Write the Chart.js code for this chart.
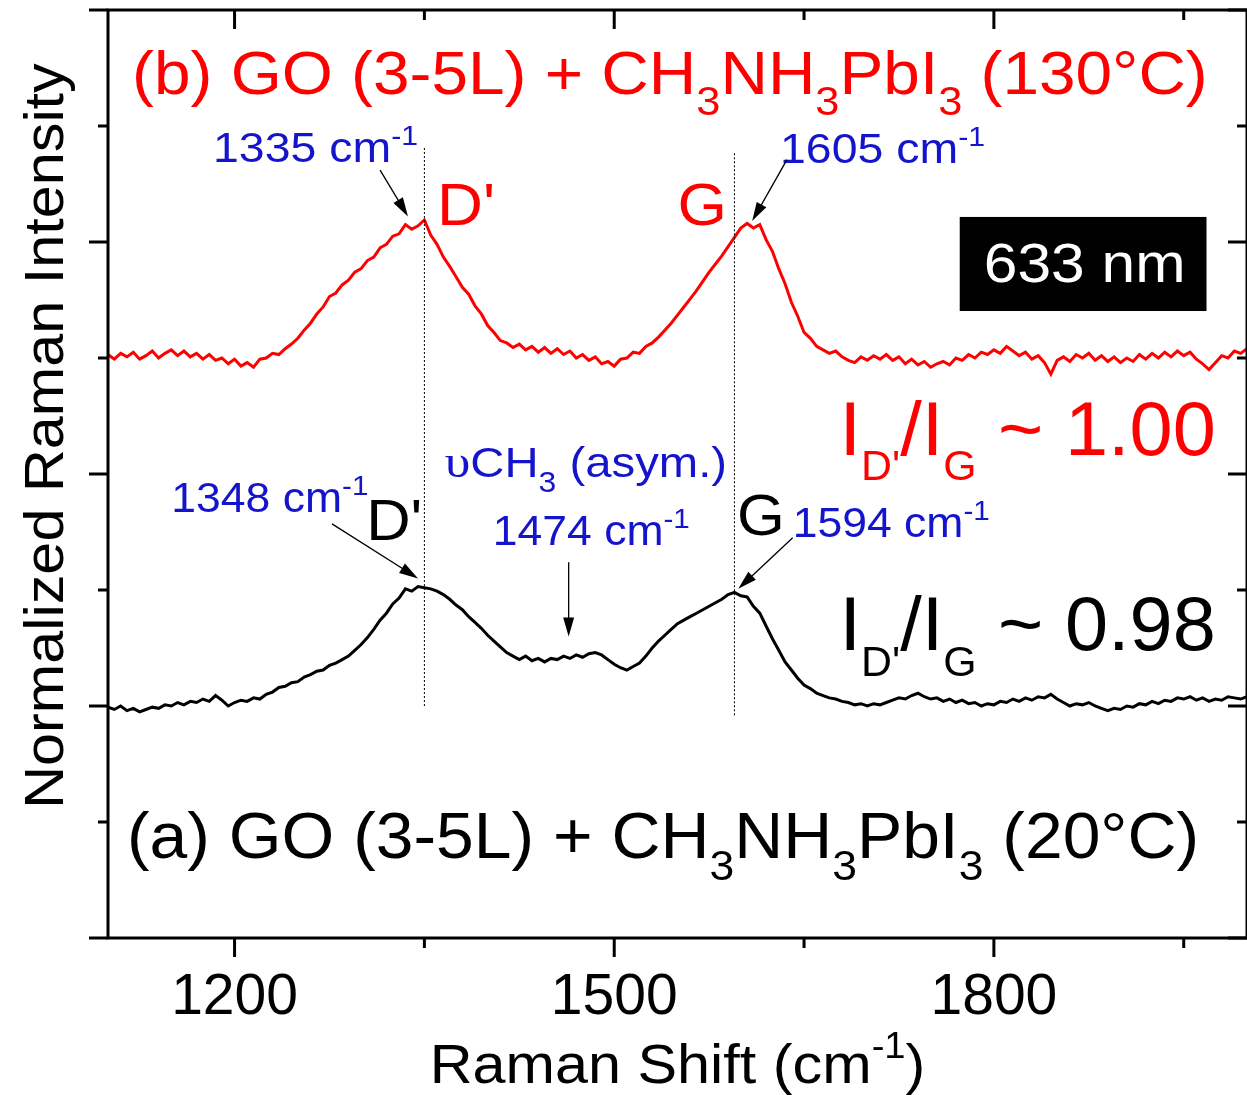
<!DOCTYPE html>
<html>
<head>
<meta charset="utf-8">
<script src="https://cdn.jsdelivr.net/npm/chart.js@4.4.1/dist/chart.umd.min.js"></script>
<style>
  html, body { margin: 0; padding: 0; background: #fff; }
  #wrap { width: 1247px; height: 1095px; }
</style>
</head>
<body>
<div id="wrap"><canvas id="raman" width="1247" height="1095"></canvas></div>
<script>
// Raman shift (cm-1), sampled every 5 cm-1
const ramanShift = [
  1100, 1105, 1110, 1115, 1120, 1125, 1130, 1135, 1140, 1145,
  1150, 1155, 1160, 1165, 1170, 1175, 1180, 1185, 1190, 1195,
  1200, 1205, 1210, 1215, 1220, 1225, 1230, 1235, 1240, 1245,
  1250, 1255, 1260, 1265, 1270, 1275, 1280, 1285, 1290, 1295,
  1300, 1305, 1310, 1315, 1320, 1325, 1330, 1335, 1340, 1345,
  1350, 1355, 1360, 1365, 1370, 1375, 1380, 1385, 1390, 1395,
  1400, 1405, 1410, 1415, 1420, 1425, 1430, 1435, 1440, 1445,
  1450, 1455, 1460, 1465, 1470, 1475, 1480, 1485, 1490, 1495,
  1500, 1505, 1510, 1515, 1520, 1525, 1530, 1535, 1540, 1545,
  1550, 1555, 1560, 1565, 1570, 1575, 1580, 1585, 1590, 1595,
  1600, 1605, 1610, 1615, 1620, 1625, 1630, 1635, 1640, 1645,
  1650, 1655, 1660, 1665, 1670, 1675, 1680, 1685, 1690, 1695,
  1700, 1705, 1710, 1715, 1720, 1725, 1730, 1735, 1740, 1745,
  1750, 1755, 1760, 1765, 1770, 1775, 1780, 1785, 1790, 1795,
  1800, 1805, 1810, 1815, 1820, 1825, 1830, 1835, 1840, 1845,
  1850, 1855, 1860, 1865, 1870, 1875, 1880, 1885, 1890, 1895,
  1900, 1905, 1910, 1915, 1920, 1925, 1930, 1935, 1940, 1945,
  1950, 1955, 1960, 1965, 1970, 1975, 1980, 1985, 1990, 1995,
  2000
];

// (b) GO (3-5L) + CH3NH3PbI3, 130°C (offset spectrum)
const intensity130C = [
  5.03, 4.99, 5.04, 5.01, 5.05, 4.99, 5.02, 5.06, 5.00, 5.04,
  5.07, 5.02, 5.06, 5.01, 5.04, 4.99, 5.03, 4.98, 5.00, 4.95,
  4.99, 4.93, 4.96, 4.92, 4.99, 5.00, 5.04, 5.03, 5.08, 5.12,
  5.17, 5.24, 5.30, 5.38, 5.44, 5.53, 5.56, 5.63, 5.67, 5.74,
  5.77, 5.84, 5.87, 5.95, 5.98, 6.05, 6.07, 6.15, 6.11, 6.14,
  6.19, 6.06, 5.98, 5.87, 5.79, 5.70, 5.61, 5.55, 5.45, 5.38,
  5.28, 5.22, 5.15, 5.13, 5.09, 5.12, 5.07, 5.10, 5.05, 5.09,
  5.04, 5.08, 5.03, 5.06, 5.00, 5.03, 4.98, 5.01, 4.95, 4.97,
  4.93, 4.99, 5.00, 5.05, 5.04, 5.10, 5.13, 5.18, 5.24, 5.30,
  5.37, 5.44, 5.51, 5.58, 5.66, 5.74, 5.81, 5.88, 5.96, 6.04,
  6.12, 6.16, 6.12, 6.15, 6.02, 5.92, 5.77, 5.64, 5.48, 5.36,
  5.22, 5.17, 5.10, 5.07, 5.04, 5.06, 5.01, 4.98, 4.96, 5.01,
  4.98, 5.02, 4.99, 5.03, 4.98, 5.01, 4.95, 4.99, 4.94, 4.97,
  4.92, 4.95, 4.97, 4.94, 5.00, 4.98, 5.03, 5.00, 5.05, 5.03,
  5.07, 5.04, 5.10, 5.06, 5.02, 5.05, 4.99, 5.02, 4.96, 4.86,
  4.98, 5.01, 4.97, 5.03, 5.00, 5.04, 4.98, 5.02, 4.97, 5.01,
  4.96, 5.00, 4.97, 5.03, 4.99, 5.04, 5.00, 5.05, 5.01, 5.06,
  5.02, 5.05, 4.99, 4.95, 4.90, 4.96, 5.02, 5.00, 5.06, 5.04,
  5.08
];

// (a) GO (3-5L) + CH3NH3PbI3, 20°C
const intensity20C = [
  1.99, 1.97, 2.00, 1.96, 1.98, 1.95, 1.97, 1.99, 1.98, 2.01,
  2.00, 2.03, 2.01, 2.04, 2.03, 2.06, 2.04, 2.09, 2.05, 2.00,
  2.03, 2.05, 2.04, 2.07, 2.06, 2.10, 2.12, 2.16, 2.17, 2.20,
  2.21, 2.25, 2.27, 2.30, 2.31, 2.35, 2.37, 2.40, 2.43, 2.48,
  2.53, 2.59, 2.66, 2.74, 2.80, 2.88, 2.93, 3.01, 2.99, 3.03,
  3.02, 3.01, 2.99, 2.96, 2.92, 2.87, 2.83, 2.77, 2.72, 2.67,
  2.61, 2.56, 2.51, 2.46, 2.43, 2.40, 2.43, 2.39, 2.41, 2.38,
  2.41, 2.40, 2.43, 2.41, 2.44, 2.42, 2.45, 2.46, 2.44, 2.40,
  2.36, 2.33, 2.31, 2.34, 2.37, 2.43, 2.50, 2.56, 2.61, 2.66,
  2.71, 2.74, 2.77, 2.80, 2.83, 2.86, 2.89, 2.92, 2.96, 2.98,
  2.95, 2.94, 2.86, 2.80, 2.69, 2.58, 2.48, 2.38, 2.31, 2.24,
  2.18, 2.15, 2.11, 2.09, 2.07, 2.06, 2.04, 2.03, 2.01, 2.02,
  2.00, 2.02, 2.01, 2.03, 2.05, 2.07, 2.06, 2.09, 2.11, 2.08,
  2.06, 2.07, 2.04, 2.06, 2.03, 2.05, 2.02, 2.03, 2.00, 2.02,
  2.01, 2.04, 2.03, 2.06, 2.04, 2.07, 2.05, 2.08, 2.07, 2.10,
  2.06, 2.03, 2.00, 2.02, 2.01, 2.03, 2.00, 1.98, 1.96, 1.98,
  1.97, 2.00, 1.99, 2.02, 2.01, 2.04, 2.02, 2.05, 2.04, 2.07,
  2.06, 2.08, 2.05, 2.07, 2.04, 2.06, 2.05, 2.08, 2.07, 2.06,
  2.08
];

// axis ticks
const xTickLabels = [1200, 1500, 1800];
const xMinorTicks = [1350, 1650, 1950];
const yMajorTicks = [0, 2, 4, 6, 8];
const yMinorTicks = [1, 3, 5, 7];

// dotted guide lines at the D' and G positions
const guideShift = [1350, 1595];
const guideFrom = [2.0, 1.92];
const guideTo = [6.82, 6.77];

const FONT = '"Liberation Sans", Arial, Helvetica, sans-serif';
const SERIF = '"Liberation Serif", "Times New Roman", serif';
const STRETCH = 1.06;
const RED = '#ff0000';
const BLUE = '#1414cc';
const BLACK = '#000000';

// text annotations, anchored in data units (left edge, baseline)
const notes = [
  { x: 1119, y: 7.28, color: RED, parts: [['(b) GO (3-5L) + CH', 62], ['3', 41, 21], ['NH', 62], ['3', 41, 21], ['PbI', 62], ['3', 41, 21], [' (130°C)', 62]] },
  { x: 1115, y: 0.69, color: BLACK, parts: [['(a) GO (3-5L) + CH', 64], ['3', 42, 22], ['NH', 64], ['3', 42, 22], ['PbI', 64], ['3', 42, 22], [' (20°C)', 64]] },
  { x: 1183, y: 6.69, color: BLUE, parts: [['1335 cm', 43], ['-1', 28, -17]], stretch: 1.08 },
  { x: 1631, y: 6.68, color: BLUE, parts: [['1605 cm', 43], ['-1', 28, -17]], stretch: 1.08 },
  { x: 1360, y: 6.15, color: RED, parts: [["D'", 60]] },
  { x: 1550, y: 6.15, color: RED, parts: [['G', 60]] },
  { x: 1678, y: 4.16, color: RED, stretch: 1.02, parts: [['I', 76], ["D'", 42, 25], ['/', 76], ['I', 76], ['G', 42, 25], [' ~ 1.00', 76]] },
  { x: 1678, y: 2.48, color: BLACK, stretch: 1.02, parts: [['I', 76], ["D'", 42, 26], ['/', 76], ['I', 76], ['G', 42, 26], [' ~ 0.98', 76]] },
  { x: 1150, y: 3.67, color: BLUE, parts: [['1348 cm', 42], ['-1', 28, -17]] },
  { x: 1304, y: 3.43, color: BLACK, parts: [["D'", 58]] },
  { x: 1366, y: 3.97, color: BLUE, parts: [['\u03c5', 47, 0, SERIF], ['CH', 43], ['3', 29, 15], [' (asym.)', 43]], stretch: 1.1 },
  { x: 1404, y: 3.39, color: BLUE, parts: [['1474 cm', 42], ['-1', 28, -17]] },
  { x: 1597, y: 3.47, color: BLACK, parts: [['G', 58]] },
  { x: 1641, y: 3.46, color: BLUE, parts: [['1594 cm', 42], ['-1', 28, -17]] }
];

// arrows: [fromX, fromY, toX, toY] in data units
const arrows = [
  [1315, 6.62, 1337, 6.22],
  [1636.5, 6.71, 1609, 6.18],
  [1277, 3.57, 1345, 3.10],
  [1464, 3.24, 1464, 2.60],
  [1641, 3.45, 1598, 3.01]
];

const laserBox = { x0: 1773, x1: 1968, y0: 5.405, y1: 6.216, textX: 1792, textY: 5.655, text: '633 nm' };

function drawRich(ctx, x, y, parts, color, stretch) {
  ctx.save();
  ctx.translate(x, y);
  ctx.scale(stretch || STRETCH, 1);
  ctx.fillStyle = color;
  ctx.textBaseline = 'alphabetic';
  ctx.textAlign = 'left';
  let cx = 0;
  parts.forEach(p => {
    ctx.font = `${p[1]}px ${p[3] || FONT}`;
    ctx.fillText(p[0], cx, p[2] || 0);
    cx += ctx.measureText(p[0]).width;
  });
  ctx.restore();
}

function richWidth(ctx, parts, stretch) {
  let w = 0;
  parts.forEach(p => {
    ctx.font = `${p[1]}px ${p[3] || FONT}`;
    w += ctx.measureText(p[0]).width;
  });
  return w * (stretch || STRETCH);
}

function drawArrow(ctx, x1, y1, x2, y2) {
  const ang = Math.atan2(y2 - y1, x2 - x1);
  const len = 19, half = 5.5;
  ctx.save();
  ctx.strokeStyle = BLACK;
  ctx.fillStyle = BLACK;
  ctx.lineWidth = 1.3;
  ctx.beginPath();
  ctx.moveTo(x1, y1);
  ctx.lineTo(x2 - Math.cos(ang) * len * 0.8, y2 - Math.sin(ang) * len * 0.8);
  ctx.stroke();
  ctx.beginPath();
  ctx.moveTo(x2, y2);
  ctx.lineTo(x2 - Math.cos(ang) * len - Math.sin(ang) * half, y2 - Math.sin(ang) * len + Math.cos(ang) * half);
  ctx.lineTo(x2 - Math.cos(ang) * len + Math.sin(ang) * half, y2 - Math.sin(ang) * len - Math.cos(ang) * half);
  ctx.closePath();
  ctx.fill();
  ctx.restore();
}

// frame with Origin-style ticks: out on left/bottom, in on top/right
const framePlugin = {
  id: 'frame',
  afterDatasetsDraw(chart) {
    const { ctx, chartArea: a, scales: { x, y } } = chart;
    const major = 19, minor = 10;
    ctx.save();
    ctx.strokeStyle = BLACK;
    ctx.lineWidth = 3;
    ctx.lineCap = 'butt';
    ctx.strokeRect(a.left, a.top, a.right - a.left, a.bottom - a.top);
    ctx.beginPath();
    const xt = (v, len) => {
      const px = x.getPixelForValue(v);
      ctx.moveTo(px, a.bottom); ctx.lineTo(px, a.bottom + len);
      ctx.moveTo(px, a.top); ctx.lineTo(px, a.top + len);
    };
    const yt = (v, len) => {
      const py = y.getPixelForValue(v);
      ctx.moveTo(a.left, py); ctx.lineTo(a.left - len, py);
      ctx.moveTo(a.right, py); ctx.lineTo(a.right - len, py);
    };
    xTickLabels.forEach(v => xt(v, major));
    xMinorTicks.forEach(v => xt(v, minor));
    yMajorTicks.forEach(v => yt(v, major));
    yMinorTicks.forEach(v => yt(v, minor));
    ctx.stroke();
    ctx.restore();
  }
};

const notesPlugin = {
  id: 'notes',
  afterDraw(chart) {
    const { ctx, chartArea: a, scales: { x, y } } = chart;
    const sx = v => x.getPixelForValue(v);
    const sy = v => y.getPixelForValue(v);

    // laser line box
    ctx.save();
    ctx.fillStyle = BLACK;
    ctx.fillRect(sx(laserBox.x0), sy(laserBox.y1), sx(laserBox.x1) - sx(laserBox.x0), sy(laserBox.y0) - sy(laserBox.y1));
    ctx.restore();
    drawRich(ctx, sx(laserBox.textX), sy(laserBox.textY), [[laserBox.text, 55]], '#ffffff', 1.1);

    notes.forEach(n => drawRich(ctx, sx(n.x), sy(n.y), n.parts, n.color, n.stretch));
    arrows.forEach(r => drawArrow(ctx, sx(r[0]), sy(r[1]), sx(r[2]), sy(r[3])));

    // axis titles
    const xTitle = [['Raman Shift (cm', 56], ['-1', 36, -25], [')', 56]];
    const w = richWidth(ctx, xTitle);
    drawRich(ctx, (a.left + a.right) / 2 - w / 2, 1083, xTitle, BLACK);

    ctx.save();
    ctx.translate(a.left - 45, (a.top + a.bottom) / 2 - 38);
    ctx.rotate(-Math.PI / 2);
    ctx.scale(STRETCH, 1);
    ctx.font = `56px ${FONT}`;
    ctx.fillStyle = BLACK;
    ctx.textAlign = 'center';
    ctx.textBaseline = 'alphabetic';
    ctx.fillText('Normalized Raman Intensity', 0, 0);
    ctx.restore();
  }
};

const toPoints = (xs, ys) => xs.map((v, i) => ({ x: v, y: ys[i] }));

const guideSets = guideShift.map((s, i) => ({
  data: [{ x: s, y: guideFrom[i] }, { x: s, y: guideTo[i] }],
  borderColor: BLACK,
  borderWidth: 1,
  borderDash: [2, 2],
  pointRadius: 0
}));

new Chart(document.getElementById('raman'), {
  type: 'line',
  data: {
    datasets: [
      ...guideSets,
      { label: '130°C', data: toPoints(ramanShift, intensity130C), borderColor: RED, borderWidth: 3, pointRadius: 0, tension: 0 },
      { label: '20°C', data: toPoints(ramanShift, intensity20C), borderColor: BLACK, borderWidth: 3, pointRadius: 0, tension: 0 }
    ]
  },
  options: {
    responsive: false,
    animation: false,
    devicePixelRatio: 1,
    layout: { padding: { top: 10, right: 0, left: 0, bottom: 0 } },
    plugins: { legend: { display: false }, tooltip: { enabled: false } },
    scales: {
      x: {
        type: 'linear',
        min: 1100,
        max: 2000,
        grid: { display: false, drawTicks: false },
        border: { display: false },
        afterBuildTicks: s => { s.ticks = xTickLabels.map(v => ({ value: v })); },
        afterFit: s => { s.height = 157; },
        ticks: {
          autoSkip: false,
          maxRotation: 0,
          padding: 26,
          color: BLACK,
          font: { family: FONT, size: 57 },
          callback: v => String(v)
        }
      },
      y: {
        min: 0,
        max: 8,
        grid: { display: false, drawTicks: false },
        border: { display: false },
        ticks: { display: false },
        afterFit: s => { s.width = 108; }
      }
    }
  },
  plugins: [framePlugin, notesPlugin]
});
</script>
</body>
</html>
